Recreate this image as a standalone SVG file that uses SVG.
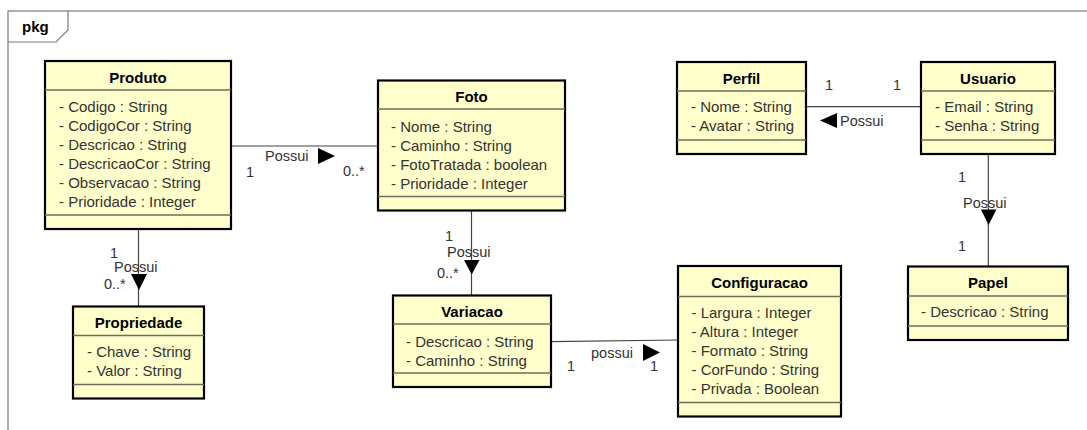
<svg xmlns="http://www.w3.org/2000/svg" width="1087" height="430" viewBox="0 0 1087 430">
  <style>
    .frame { fill: none; stroke: #7a7a7a; stroke-width: 1.2; }
    .box { fill: #FFFFCC; stroke: #000; stroke-width: 2.2; }
    .sep { stroke: #6e6e5c; stroke-width: 1.3; }
    .title { font-family: "Liberation Sans", Arial, sans-serif; font-size: 15px; font-weight: bold; fill: #000; text-anchor: middle; }
    .attr { font-family: "Liberation Sans", Arial, sans-serif; font-size: 15px; fill: #333; }
    .lbl { font-family: "Liberation Sans", Arial, sans-serif; font-size: 14.5px; fill: #333; }
    .tab { font-family: "Liberation Sans", Arial, sans-serif; font-size: 15px; font-weight: bold; fill: #000; }
    .line { stroke: #444; stroke-width: 1.2; fill: none; }
    .dir { fill: #000; }
  </style>

  <!-- package frame -->
  <g id="frame">
    <rect class="frame" x="8" y="11" width="1100" height="440"/>
    <path class="frame" d="M8,42 H56 L68,30 V11"/>
    <text class="tab" x="22" y="32">pkg</text>
  </g>

  <!-- associations -->
  <g id="connectors">
    <!-- Produto - Foto -->
    <line class="line" x1="231" y1="146" x2="378" y2="146"/>
    <text class="lbl" x="265" y="161">Possui</text>
    <polygon class="dir" points="318,148 318,164 335,156"/>
    <text class="lbl" x="246" y="177">1</text>
    <text class="lbl" x="343" y="176">0..*</text>

    <!-- Produto - Propriedade -->
    <line class="line" x1="138.5" y1="229" x2="138.5" y2="306.5"/>
    <text class="lbl" x="110" y="258">1</text>
    <text class="lbl" x="114" y="272">Possui</text>
    <polygon class="dir" points="131,274 147,274 139,290"/>
    <text class="lbl" x="104" y="289">0..*</text>

    <!-- Foto - Variacao -->
    <line class="line" x1="471.5" y1="210.5" x2="471.5" y2="295.5"/>
    <text class="lbl" x="445" y="241">1</text>
    <text class="lbl" x="447" y="257">Possui</text>
    <polygon class="dir" points="464,260 479.5,260 471.7,274.5"/>
    <text class="lbl" x="437" y="278">0..*</text>

    <!-- Variacao - Configuracao -->
    <line class="line" x1="551" y1="341.7" x2="678" y2="340"/>
    <text class="lbl" x="591" y="358">possui</text>
    <polygon class="dir" points="643,344 643,361 660,352.5"/>
    <text class="lbl" x="567" y="371">1</text>
    <text class="lbl" x="650" y="371">1</text>

    <!-- Usuario - Perfil -->
    <line class="line" x1="806" y1="106.7" x2="921" y2="106.7"/>
    <text class="lbl" x="825" y="90">1</text>
    <text class="lbl" x="893" y="90">1</text>
    <polygon class="dir" points="820,120.5 837,113 837,128"/>
    <text class="lbl" x="840" y="126">Possui</text>

    <!-- Usuario - Papel -->
    <line class="line" x1="988.3" y1="154" x2="988.3" y2="266.5"/>
    <text class="lbl" x="958" y="182">1</text>
    <text class="lbl" x="963" y="208">Possui</text>
    <polygon class="dir" points="981,209.5 996.5,209.5 988.5,225"/>
    <text class="lbl" x="958" y="251">1</text>
  </g>

  <!-- Produto -->
  <g id="produto">
    <rect class="box" x="45" y="61" width="186" height="168"/>
    <line class="sep" x1="45" y1="90" x2="231" y2="90"/>
    <line class="sep" x1="45" y1="215" x2="231" y2="215"/>
    <text class="title" x="138" y="83">Produto</text>
    <text class="attr" x="59" y="112">- Codigo : String</text>
    <text class="attr" x="59" y="131">- CodigoCor : String</text>
    <text class="attr" x="59" y="150">- Descricao : String</text>
    <text class="attr" x="59" y="169">- DescricaoCor : String</text>
    <text class="attr" x="59" y="188">- Observacao : String</text>
    <text class="attr" x="59" y="207">- Prioridade : Integer</text>
  </g>

  <!-- Foto -->
  <g id="foto">
    <rect class="box" x="378" y="80.5" width="187" height="130"/>
    <line class="sep" x1="378" y1="109" x2="565" y2="109"/>
    <line class="sep" x1="378" y1="196.5" x2="565" y2="196.5"/>
    <text class="title" x="471.5" y="102">Foto</text>
    <text class="attr" x="391" y="131.5">- Nome : String</text>
    <text class="attr" x="391" y="150.5">- Caminho : String</text>
    <text class="attr" x="391" y="169.5">- FotoTratada : boolean</text>
    <text class="attr" x="391" y="188.5">- Prioridade : Integer</text>
  </g>

  <!-- Propriedade -->
  <g id="propriedade">
    <rect class="box" x="73" y="306.5" width="131" height="92"/>
    <line class="sep" x1="73" y1="335.5" x2="204" y2="335.5"/>
    <line class="sep" x1="73" y1="384.5" x2="204" y2="384.5"/>
    <text class="title" x="138.5" y="328">Propriedade</text>
    <text class="attr" x="87" y="357">- Chave : String</text>
    <text class="attr" x="87" y="376">- Valor : String</text>
  </g>

  <!-- Variacao -->
  <g id="variacao">
    <rect class="box" x="393" y="295.5" width="158" height="91.5"/>
    <line class="sep" x1="393" y1="324" x2="551" y2="324"/>
    <line class="sep" x1="393" y1="373" x2="551" y2="373"/>
    <text class="title" x="472" y="317">Variacao</text>
    <text class="attr" x="406" y="346.5">- Descricao : String</text>
    <text class="attr" x="406" y="365.5">- Caminho : String</text>
  </g>

  <!-- Configuracao -->
  <g id="configuracao">
    <rect class="box" x="678" y="266" width="163" height="150.5"/>
    <line class="sep" x1="678" y1="296.5" x2="841" y2="296.5"/>
    <line class="sep" x1="678" y1="402.5" x2="841" y2="402.5"/>
    <text class="title" x="759.5" y="288">Configuracao</text>
    <text class="attr" x="691.5" y="317.5">- Largura : Integer</text>
    <text class="attr" x="691.5" y="336.5">- Altura : Integer</text>
    <text class="attr" x="691.5" y="355.5">- Formato : String</text>
    <text class="attr" x="691.5" y="374.5">- CorFundo : String</text>
    <text class="attr" x="691.5" y="393.5">- Privada : Boolean</text>
  </g>

  <!-- Perfil -->
  <g id="perfil">
    <rect class="box" x="677" y="62" width="129" height="92"/>
    <line class="sep" x1="677" y1="91" x2="806" y2="91"/>
    <line class="sep" x1="677" y1="140" x2="806" y2="140"/>
    <text class="title" x="741.5" y="83.5">Perfil</text>
    <text class="attr" x="691" y="112">- Nome : String</text>
    <text class="attr" x="691" y="131">- Avatar : String</text>
  </g>

  <!-- Usuario -->
  <g id="usuario">
    <rect class="box" x="921" y="62" width="134" height="92"/>
    <line class="sep" x1="921" y1="91" x2="1055" y2="91"/>
    <line class="sep" x1="921" y1="140" x2="1055" y2="140"/>
    <text class="title" x="988" y="83.5">Usuario</text>
    <text class="attr" x="935" y="112">- Email : String</text>
    <text class="attr" x="935" y="131">- Senha : String</text>
  </g>

  <!-- Papel -->
  <g id="papel">
    <rect class="box" x="908" y="266.5" width="160" height="73.5"/>
    <line class="sep" x1="908" y1="296" x2="1068" y2="296"/>
    <line class="sep" x1="908" y1="326" x2="1068" y2="326"/>
    <text class="title" x="988" y="288">Papel</text>
    <text class="attr" x="921" y="317">- Descricao : String</text>
  </g>
</svg>
